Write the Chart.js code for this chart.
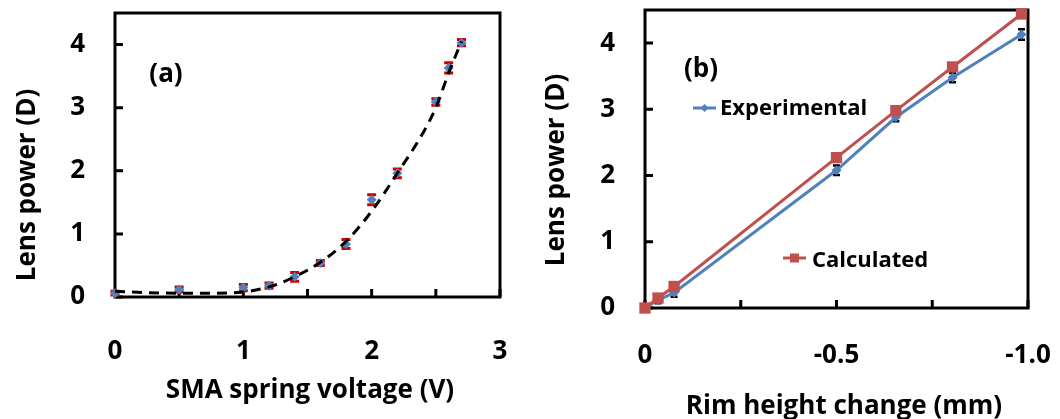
<!DOCTYPE html>
<html><head><meta charset="utf-8">
<script src="https://cdn.jsdelivr.net/npm/chart.js@4.4.1/dist/chart.umd.min.js"></script>
<style>
html,body{margin:0;padding:0;background:#fff;}
#wrap{position:relative;width:1060px;height:419px;overflow:hidden;}
.c{position:absolute;top:0;width:530px;height:419px;}
</style></head><body>
<div id="wrap">
<div class="c" style="left:0"><canvas id="ca" width="530" height="419"></canvas></div>
<div class="c" style="left:530px"><canvas id="cb" width="530" height="419"></canvas></div>
</div>
<script>
// ---------- Panel (a) data ----------
const voltageV   = [0, 0.5, 1.0, 1.2, 1.4, 1.6, 1.8, 2.0, 2.2, 2.5, 2.6, 2.7];
const powerA     = [0.06, 0.12, 0.15, 0.18, 0.32, 0.54, 0.84, 1.54, 1.96, 3.09, 3.63, 4.03];
const errA       = [0.03, 0.04, 0.05, 0.04, 0.07, 0.04, 0.07, 0.08, 0.07, 0.05, 0.08, 0.05];
const fitV       = [0, 0.25, 0.5, 0.75, 1.0, 1.2, 1.4, 1.6, 1.8, 2.0, 2.2, 2.4, 2.5, 2.6, 2.7];
const fitPower   = [0.09, 0.07, 0.06, 0.06, 0.08, 0.16, 0.32, 0.55, 0.88, 1.36, 1.96, 2.6, 3.0, 3.55, 4.05];
const xTicksA    = [0, 0.5, 1, 1.5, 2, 2.5, 3];
const xLabelsA   = ['0', '', '1', '', '2', '', '3'];
const yTicks     = [0, 1, 2, 3, 4];
const yLabels    = ['0', '1', '2', '3', '4'];
// ---------- Panel (b) data ----------
const rimMm        = [0, -0.034, -0.076, -0.5, -0.655, -0.803, -0.983];
const experimental = [0, 0.12, 0.23, 2.08, 2.88, 3.48, 4.13];
const errExp       = [0.03, 0.05, 0.06, 0.07, 0.06, 0.07, 0.08];
const calculated   = [0, 0.15, 0.325, 2.27, 2.98, 3.64, 4.44];
const xTicksB      = [0, -0.25, -0.5, -0.75, -1.0];
const xLabelsB     = ['0', '', '-0.5', '', '-1.0'];

const FAM = '"Open Sans", "DejaVu Sans", sans-serif';
const FS = 26;
const FONT = 'bold ' + FS + 'px ' + FAM;
const LEG_FONT = 'bold 22px ' + FAM;
const BLUE = '#4F81BD', RED = '#C0504D', ERR_RED = '#D00000';

function pts(xs, ys) { return xs.map((v, i) => ({x: v, y: ys[i]})); }

function framePlugin(xT, yT) {
  return { id: 'frame', beforeDatasetsDraw(chart) {
    const {ctx, chartArea: a, scales: {x, y}} = chart;
    ctx.save();
    ctx.strokeStyle = '#000'; ctx.lineWidth = 3;
    ctx.strokeRect(a.left, a.top, a.right - a.left, a.bottom - a.top);
    ctx.beginPath();
    xT.forEach(v => { const p = x.getPixelForValue(v); ctx.moveTo(p, a.bottom); ctx.lineTo(p, a.bottom - 8); });
    yT.forEach(v => { const p = y.getPixelForValue(v); ctx.moveTo(a.left, p); ctx.lineTo(a.left + 8, p); });
    ctx.stroke();
    ctx.restore();
  }};
}
function errPlugin(dsIndex, errs, color, capW, lw) {
  return { id: 'err' + dsIndex, beforeDatasetsDraw(chart) {
    const {ctx, scales: {x, y}} = chart;
    const ds = chart.data.datasets[dsIndex];
    ctx.save();
    ctx.strokeStyle = color; ctx.lineWidth = lw;
    ds.data.forEach((p, i) => {
      const px = x.getPixelForValue(p.x);
      const y1 = y.getPixelForValue(p.y + errs[i]);
      const y2 = y.getPixelForValue(p.y - errs[i]);
      ctx.beginPath();
      ctx.moveTo(px, y1); ctx.lineTo(px, y2);
      ctx.moveTo(px - capW / 2, y1); ctx.lineTo(px + capW / 2, y1);
      ctx.moveTo(px - capW / 2, y2); ctx.lineTo(px + capW / 2, y2);
      ctx.stroke();
    });
    ctx.restore();
  }};
}
function textPlugin(items) {
  return { id: 'texts', afterDraw(chart) {
    const ctx = chart.ctx;
    ctx.save();
    ctx.fillStyle = '#000';
    items.forEach(t => {
      ctx.save();
      ctx.font = t.font || FONT;
      ctx.translate(t.x, t.y);
      if (t.rot) ctx.rotate(t.rot);
      ctx.textAlign = t.align || 'center';
      ctx.textBaseline = t.base || 'alphabetic';
      ctx.fillText(t.text, 0, 0);
      ctx.restore();
    });
    ctx.restore();
  }};
}
function legendPlugin(entries) {
  return { id: 'leg', afterDraw(chart) {
    const ctx = chart.ctx;
    ctx.save();
    entries.forEach(e => {
      const ds = chart.data.datasets[e.ds];
      ctx.strokeStyle = ds.borderColor; ctx.lineWidth = 3;
      ctx.beginPath(); ctx.moveTo(e.x0, e.y); ctx.lineTo(e.x1, e.y); ctx.stroke();
      ctx.fillStyle = ds.backgroundColor;
      const cx = (e.x0 + e.x1) / 2;
      ctx.beginPath();
      if (ds.pointStyle === 'rect') { ctx.rect(cx - e.m, e.y - e.m, 2 * e.m, 2 * e.m); }
      else { ctx.moveTo(cx, e.y - e.m); ctx.lineTo(cx + e.m, e.y); ctx.lineTo(cx, e.y + e.m); ctx.lineTo(cx - e.m, e.y); ctx.closePath(); }
      ctx.fill();
      ctx.fillStyle = '#000'; ctx.font = LEG_FONT;
      ctx.textAlign = 'left'; ctx.textBaseline = 'alphabetic';
      ctx.fillText(ds.label, e.tx, e.ty);
    });
    ctx.restore();
  }};
}
function axisOpts(tickVals, labels, pad, fitFn, extra) {
  return Object.assign({
    type: 'linear',
    grid: {display: false, drawTicks: false},
    border: {display: false},
    afterBuildTicks(s) { s.ticks = tickVals.map(v => ({value: v})); },
    afterFit(s) { fitFn(s); s.paddingTop = 0; s.paddingBottom = 0; s.paddingLeft = 0; s.paddingRight = 0; },
    ticks: {padding: pad, color: '#000', font: {family: FAM, size: FS, weight: 'bold'},
      callback: (v, i) => labels[i], maxRotation: 0, minRotation: 0, autoSkip: false}
  }, extra || {});
}

function build() {
  Chart.defaults.animation = false;
  // Panel (a)
  new Chart(document.getElementById('ca'), {
    type: 'scatter',
    data: { datasets: [
      { label: 'Fit', data: pts(fitV, fitPower), showLine: true, borderColor: '#000', borderWidth: 3,
        borderDash: [10, 7], pointRadius: 0, cubicInterpolationMode: 'monotone', order: 0, clip: false },
      { label: 'Measured', data: pts(voltageV, powerA), pointStyle: 'rectRot', pointRadius: 5,
        backgroundColor: BLUE, borderColor: BLUE, borderWidth: 0, order: 1, clip: false }
    ]},
    options: {
      responsive: false, animation: false,
      layout: {padding: {top: 13, right: 30, left: 0, bottom: 0}},
      plugins: {legend: {display: false}, tooltip: {enabled: false}},
      scales: {
        x: axisOpts(xTicksA, xLabelsA, 39, s => { s.height = 122; }, {min: 0, max: 3}),
        y: axisOpts(yTicks, yLabels, 30, s => { s.width = 115; }, {min: 0, max: 4.5})
      }
    },
    plugins: [framePlugin(xTicksA, yTicks), errPlugin(1, errA, ERR_RED, 9, 3),
      textPlugin([
        {text: 'SMA spring voltage (V)', x: 310, y: 398},
        {text: 'Lens power (D)', x: 35, y: 185, rot: -Math.PI / 2},
        {text: '(a)', x: 166, y: 75, base: 'middle'}
      ])]
  });
  // Panel (b)
  new Chart(document.getElementById('cb'), {
    type: 'scatter',
    data: { datasets: [
      { label: 'Experimental', data: pts(rimMm, experimental), showLine: true, borderColor: BLUE, borderWidth: 3,
        pointStyle: 'rectRot', pointRadius: 5, backgroundColor: BLUE, pointBorderWidth: 0, order: 1, clip: false },
      { label: 'Calculated', data: pts(rimMm, calculated), showLine: true, borderColor: RED, borderWidth: 3,
        pointStyle: 'rect', pointRadius: 8, backgroundColor: RED, pointBorderWidth: 0, order: 0, clip: false }
    ]},
    options: {
      responsive: false, animation: false,
      layout: {padding: {top: 10, right: 32, left: 0, bottom: 0}},
      plugins: {legend: {display: false}, tooltip: {enabled: false}},
      scales: {
        x: axisOpts(xTicksB, xLabelsB, 32, s => { s.height = 111; }, {min: -1, max: 0, reverse: true}),
        y: axisOpts(yTicks, yLabels, 30, s => { s.width = 115; }, {min: 0, max: 4.5})
      }
    },
    plugins: [framePlugin(xTicksB, yTicks), errPlugin(0, errExp, '#000', 7, 2.5),
      textPlugin([
        {text: 'Rim height change (mm)', x: 314, y: 414},
        {text: 'Lens power (D)', x: 34, y: 170, rot: -Math.PI / 2},
        {text: '(b)', x: 171, y: 70, base: 'middle'}
      ]),
      legendPlugin([
        {ds: 0, x0: 163, x1: 186, y: 108, m: 4, tx: 190, ty: 115},
        {ds: 1, x0: 253, x1: 276, y: 258, m: 4.5, tx: 282, ty: 267}
      ])]
  });
}
if (document.fonts && document.fonts.load) {
  document.fonts.load(FONT).then(build, build);
} else { build(); }
</script>
</body></html>
